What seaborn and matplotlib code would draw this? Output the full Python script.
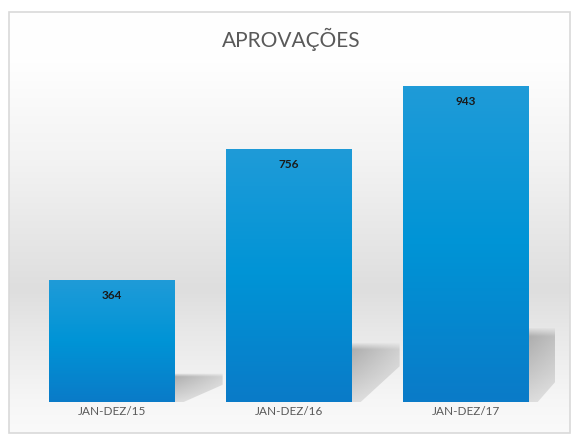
import numpy as np
import pandas as pd
import matplotlib
matplotlib.use("Agg")
import matplotlib.pyplot as plt
import seaborn as sns
from matplotlib.colors import LinearSegmentedColormap
from matplotlib.patches import Polygon, Rectangle

periodos = ["JAN-DEZ/15", "JAN-DEZ/16", "JAN-DEZ/17"]
aprovacoes = [364, 756, 943]
titulo = "APROVAÇÕES"

df = pd.DataFrame({"periodo": periodos, "aprovacoes": aprovacoes})

sns.set_style("white")
plt.rcParams["font.family"] = ["Lato", "DejaVu Sans"]

W, H = 582, 442
fig = plt.figure(figsize=(W / 100, H / 100), dpi=100)
fig.patch.set_facecolor("white")

# fundo em degrade dentro da moldura
bg = fig.add_axes([0, 0, 1, 1], zorder=0)
bg.set_xlim(0, W)
bg.set_ylim(H, 0)
bg.axis("off")
stops = [(0.0, "#ffffff"), (0.12, "#fefefe"), (0.35, "#f3f3f3"),
         (0.66, "#dedede"), (0.76, "#e8e8e8"), (0.92, "#f6f6f6"), (1.0, "#fafafa")]
cmap_bg = LinearSegmentedColormap.from_list("bg", stops)
grad = np.linspace(0, 1, 256).reshape(-1, 1)
bg.imshow(grad, cmap=cmap_bg, extent=(9, 570, 433, 12), aspect="auto", vmin=0, vmax=1)
bg.add_patch(Rectangle((9, 12), 561, 421, fill=False, edgecolor="#d9d9d9", lw=1.2))

ax = fig.add_axes([23.5 / W, 40 / H, 531 / W, 335 / H], zorder=1)
ax.patch.set_alpha(0)
sns.barplot(data=df, x="periodo", y="aprovacoes", color="#0a8ad0", width=0.71, ax=ax)

bar_cmap = LinearSegmentedColormap.from_list("bar", ["#0a7bc8", "#0094d6", "#1f9bd8"])

# sombra: imagem RGBA com transparencia em duas direcoes
ny, nx = 80, 60
yy = np.linspace(0, 1, ny).reshape(-1, 1)   # 0 = base, 1 = topo
xx = np.linspace(0, 1, nx).reshape(1, -1)   # 0 = junto da barra
a_y = np.clip((1 - yy) / 0.12, 0, 1) * (0.35 + 0.65 * yy)
a_x = 1 - 0.55 * xx
sh_img = np.zeros((ny, nx, 4))
sh_img[..., :3] = 0.62
sh_img[..., 3] = 0.85 * a_y * a_x

for p, v in zip(ax.patches, aprovacoes):
    x0, w, h = p.get_x(), p.get_width(), p.get_height()
    x1 = x0 + w
    hs = 0.235 * h
    dx = 0.27
    sh = Polygon([(x1, 0), (x1, hs), (x1 + dx, hs), (x1 + dx, hs * 0.6), (x1 + 0.05, 0)],
                 closed=True, facecolor="none", edgecolor="none")
    ax.add_patch(sh)
    im = ax.imshow(sh_img, origin="lower", extent=(x1, x1 + dx, 0, hs), aspect="auto",
                   zorder=1, interpolation="bilinear")
    im.set_clip_path(sh)
    # barra em degrade
    p.set_facecolor("none")
    p.set_edgecolor("none")
    im2 = ax.imshow(np.linspace(0, 1, 100).reshape(-1, 1), cmap=bar_cmap, origin="lower",
                    extent=(x0, x1, 0, h), aspect="auto", zorder=2)
    im2.set_clip_path(p)
    ax.text(x0 + w / 2, h - 30, str(v), ha="center", va="top", fontsize=8.5,
            fontweight="bold", color="#1a1a1a", zorder=3)

ax.set_xlim(-0.5, 2.5)
ax.set_ylim(0, 1000)
ax.set_xlabel("")
ax.set_ylabel("")
ax.set_yticks([])
ax.tick_params(axis="x", length=0, labelsize=8.5, labelcolor="#595959", pad=3)
sns.despine(ax=ax, left=True, bottom=True, top=True, right=True)

fig.text(0.5, 1 - 39 / H, titulo, ha="center", va="center", fontsize=15, color="#595959")

fig.savefig("out.png", dpi=100)
